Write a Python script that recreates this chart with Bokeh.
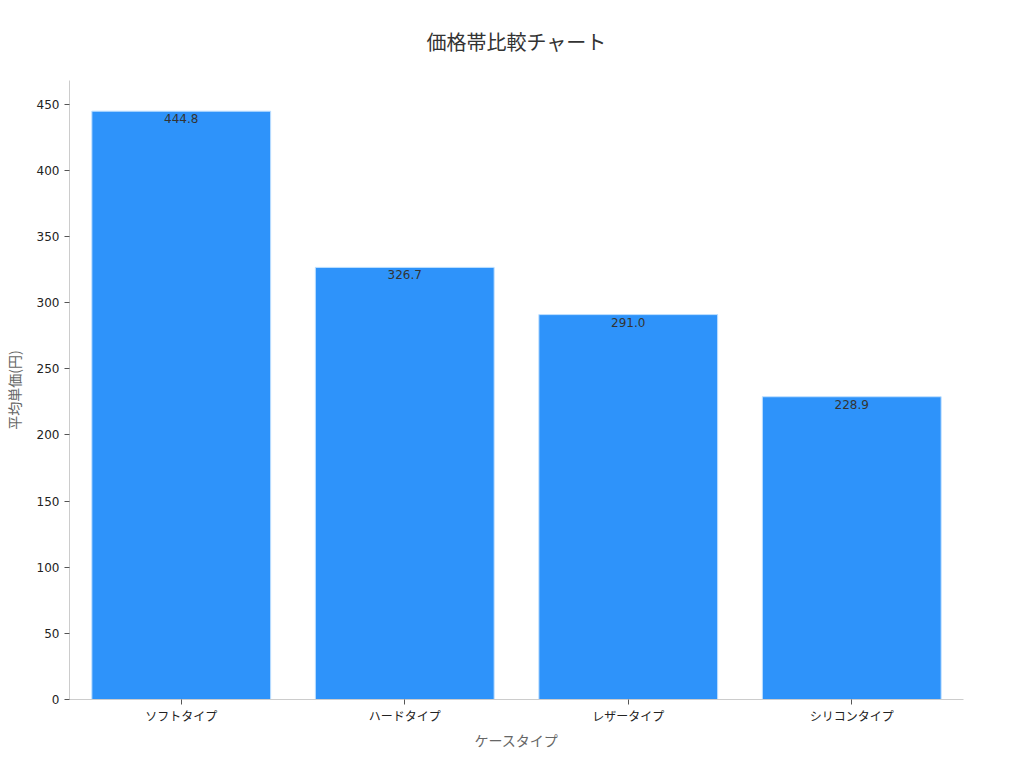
from bokeh.plotting import figure
from bokeh.models import ColumnDataSource, Range1d, LabelSet
from bokeh.embed import file_html
from bokeh.resources import INLINE
from bokeh.core.properties import value

categories = ["ソフトタイプ", "ハードタイプ", "レザータイプ", "シリコンタイプ"]
prices = [444.8, 326.7, 291.0, 228.9]
labels = [f"{v:.1f}" for v in prices]

src = ColumnDataSource(dict(cat=categories, val=prices, lab=labels))

p = figure(x_range=categories, y_range=Range1d(0, 468), width=1008, height=752,
           output_backend="svg", toolbar_location=None,
           title="価格帯比較チャート",
           min_border_left=68, min_border_right=45, min_border_top=80, min_border_bottom=48)
p.outline_line_color = None
p.xgrid.grid_line_color = None
p.ygrid.grid_line_color = None
p.x_range.range_padding = 0.0

p.title.align = "center"
p.title.text_font = "Noto Sans CJK JP"
p.title.text_font_size = "20px"
p.title.text_font_style = "normal"
p.title.text_color = "#333333"
p.title.standoff = 49

p.vbar(x="cat", top="val", width=0.8, source=src, fill_color="#2E93FA",
       line_color="#BFE0FF", line_width=1)

ls = LabelSet(x="cat", y="val", text="lab", source=src, text_align="center",
              text_baseline="top", y_offset=-3, text_font_size="12px",
              text_color="#333333", text_font=value("DejaVu Sans"))
p.add_layout(ls)

for ax in (p.xaxis[0], p.yaxis[0]):
    ax.axis_line_color = "#CCCCCC"
    ax.major_tick_line_color = "#555555"
    ax.minor_tick_line_color = None
    ax.major_tick_out = 5
    ax.major_tick_in = 0
    ax.major_label_text_font_size = "12px"
    ax.major_label_text_color = "#222222"
    ax.axis_label_text_font_style = "normal"
    ax.axis_label_text_color = "#666666"
    ax.axis_label_text_font_size = "14px"
    ax.axis_label_text_font = "Noto Sans CJK JP"

p.xaxis.major_label_text_font = "Noto Sans CJK JP"
p.yaxis.major_label_text_font = "DejaVu Sans"
p.xaxis.axis_label = "ケースタイプ"
p.yaxis.axis_label = "平均単価(円)"
p.yaxis.ticker = [0, 50, 100, 150, 200, 250, 300, 350, 400, 450]
p.yaxis.axis_label_standoff = 10
p.xaxis.axis_label_standoff = 3
p.xaxis.major_label_standoff = 2

open("out.html", "w").write(file_html(p, INLINE))
